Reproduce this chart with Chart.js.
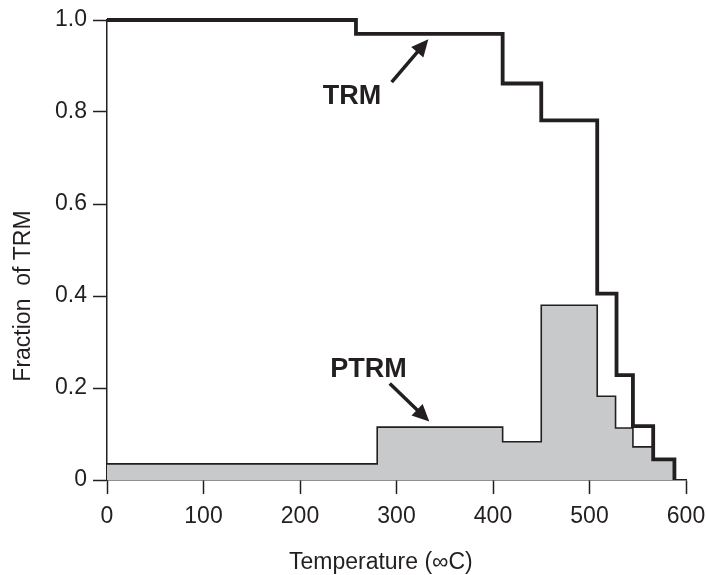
<!DOCTYPE html>
<html>
<head>
<meta charset="utf-8">
<script src="https://cdn.jsdelivr.net/npm/chart.js@4.4.1/dist/chart.umd.min.js"></script>
<style>
  html, body { margin: 0; padding: 0; background: #ffffff; }
  #wrap { width: 706px; height: 575px; }
</style>
</head>
<body>
<div id="wrap"><canvas id="c" width="706" height="575"></canvas></div>
<script>
// Temperature steps (°C) and fractions
const trmTemps   = [0, 258, 410, 450, 508, 528, 545, 566, 588];
const trmValues  = [1.0, 0.97, 0.862, 0.782, 0.405, 0.228, 0.117, 0.045, 0];
const ptrmTemps  = [0, 280, 410, 450, 508, 527, 545, 566, 588];
const ptrmValues = [0.035, 0.115, 0.083, 0.38, 0.182, 0.113, 0.072, 0.045, 0];
const xTicks = [0, 100, 200, 300, 400, 500, 600];
const yTicks = [0, 0.2, 0.4, 0.6, 0.8, 1.0];

const xTitle = 'Temperature (\u221EC)';
const yTitle = 'Fraction  of TRM';

// annotations: label position and arrow (tail -> tip) in data units
const annoLabels = ['TRM', 'PTRM'];
const annoTextX  = [254, 271];
const annoTextY  = [0.833, 0.241];
const arrowTailX = [295, 293];
const arrowTailY = [0.865, 0.210];
const arrowTipX  = [333, 334];
const arrowTipY  = [0.958, 0.127];

const INK = '#231f20';
const FONT = "'Liberation Sans', Arial, Helvetica, sans-serif";

const toPts = (xs, ys) => xs.map((x, i) => ({ x: x, y: ys[i] }));

const annoPlugin = {
  id: 'annos',
  afterDatasetsDraw(chart) {
    const ctx = chart.ctx;
    const xs = chart.scales.x, ys = chart.scales.y;
    ctx.save();
    ctx.fillStyle = INK;
    ctx.strokeStyle = INK;
    ctx.font = "bold 27px " + FONT;
    ctx.textAlign = 'center';
    ctx.textBaseline = 'middle';
    for (let i = 0; i < annoLabels.length; i++) {
      ctx.fillText(annoLabels[i], xs.getPixelForValue(annoTextX[i]), ys.getPixelForValue(annoTextY[i]));
      const x0 = xs.getPixelForValue(arrowTailX[i]), y0 = ys.getPixelForValue(arrowTailY[i]);
      const x1 = xs.getPixelForValue(arrowTipX[i]),  y1 = ys.getPixelForValue(arrowTipY[i]);
      const ang = Math.atan2(y1 - y0, x1 - x0);
      const hl = 17, hw = 8;
      const bx = x1 - hl * Math.cos(ang), by = y1 - hl * Math.sin(ang);
      ctx.lineWidth = 3.5;
      ctx.lineCap = 'butt';
      ctx.beginPath();
      ctx.moveTo(x0, y0);
      ctx.lineTo(bx + 2 * Math.cos(ang), by + 2 * Math.sin(ang));
      ctx.stroke();
      ctx.beginPath();
      ctx.moveTo(x1, y1);
      ctx.lineTo(bx + hw * Math.sin(ang), by - hw * Math.cos(ang));
      ctx.lineTo(bx - hw * Math.sin(ang), by + hw * Math.cos(ang));
      ctx.closePath();
      ctx.fill();
    }
    // axis titles
    const ca = chart.chartArea;
    ctx.font = "23px " + FONT;
    ctx.textBaseline = 'alphabetic';
    ctx.textAlign = 'center';
    ctx.fillText(xTitle, ca.left + (ca.right - ca.left) * 0.473, 569);
    ctx.save();
    ctx.translate(30, ca.top + (ca.bottom - ca.top) * 0.60);
    ctx.rotate(-Math.PI / 2);
    ctx.fillText(yTitle, 0, 0);
    ctx.restore();
    ctx.restore();
  }
};

new Chart(document.getElementById('c'), {
  type: 'line',
  data: {
    datasets: [
      {
        label: 'PTRM',
        data: toPts(ptrmTemps, ptrmValues),
        stepped: 'before',
        borderColor: INK,
        borderWidth: 1.6,
        backgroundColor: '#c8c9cb',
        fill: 'origin',
        pointRadius: 0,
        clip: 4,
        order: 2
      },
      {
        label: 'TRM',
        data: toPts(trmTemps, trmValues),
        stepped: 'before',
        borderColor: INK,
        borderWidth: 3.8,
        fill: false,
        pointRadius: 0,
        clip: 4,
        order: 1
      }
    ]
  },
  options: {
    responsive: false,
    animation: false,
    devicePixelRatio: 1,
    layout: { padding: { top: 20, right: 20, left: 0, bottom: 0 } },
    plugins: { legend: { display: false }, tooltip: { enabled: false } },
    elements: { line: { tension: 0, borderJoinStyle: 'miter', borderCapStyle: 'butt' } },
    scales: {
      x: {
        type: 'linear',
        min: 0, max: 600,
        afterBuildTicks: (s) => { s.ticks = xTicks.map(v => ({ value: v })); },
        afterFit: (s) => { s.height = 95; s.paddingLeft = 0; s.paddingRight = 0; },
        grid: { display: true, drawOnChartArea: false, drawTicks: true, tickLength: 14, tickWidth: 1.5, tickColor: INK },
        border: { display: true, color: INK, width: 1.5 },
        ticks: { color: INK, font: { family: FONT, size: 23 }, padding: 9, maxRotation: 0,
                 callback: (v) => String(v) },
        title: { display: false }
      },
      y: {
        type: 'linear',
        min: 0, max: 1.0,
        afterBuildTicks: (s) => { s.ticks = yTicks.map(v => ({ value: v })); },
        afterFit: (s) => { s.width = 107; s.paddingTop = 0; s.paddingBottom = 0; },
        grid: { display: true, drawOnChartArea: false, drawTicks: true, tickLength: 14, tickWidth: 1.5, tickColor: INK },
        border: { display: true, color: INK, width: 1.5 },
        ticks: { color: INK, font: { family: FONT, size: 23 }, padding: 6,
                 callback: (v) => v === 0 ? '0' : Number(v).toFixed(1) },
        title: { display: false }
      }
    }
  },
  plugins: [annoPlugin]
});
</script>
</body>
</html>
